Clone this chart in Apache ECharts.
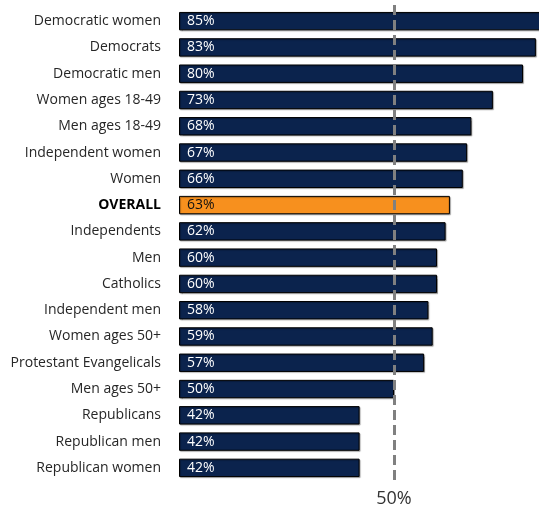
<!DOCTYPE html>
<html><head><meta charset="utf-8">
<script src="https://cdn.jsdelivr.net/npm/echarts@6/dist/echarts.min.js"></script>
<style>html,body{margin:0;padding:0;background:#fff}#c{width:539px;height:511px}</style>
</head><body><div id="c"></div>
<script>
const categories = ["Democratic women","Democrats","Democratic men","Women ages 18-49","Men ages 18-49","Independent women","Women","OVERALL","Independents","Men","Catholics","Independent men","Women ages 50+","Protestant Evangelicals","Men ages 50+","Republicans","Republican men","Republican women"];
const values = [85,83,80,73,68,67,66,63,62,60,60,58,59,57,50,42,42,42];
const highlight = "OVERALL";
const referenceValue = 50;

const chart = echarts.init(document.getElementById('c'));
const font = '"Open Sans", "Noto Sans", sans-serif';
chart.setOption({
  animation: false,
  grid: {left: 179, top: 8, width: 430, height: 473, outerBoundsMode: 'none', containLabel: false},
  xAxis: {type: 'value', min: 0, max: 100, show: false},
  yAxis: {
    type: 'category', data: categories, inverse: true,
    axisLine: {show: false}, axisTick: {show: false},
    axisLabel: {
      margin: 18, fontSize: 14, color: '#262626', fontFamily: font,
      formatter: v => v === highlight ? '{b|' + v + '}' : v,
      rich: {b: {fontWeight: 'bold', fontSize: 14, color: '#000', fontFamily: font}}
    }
  },
  series: [{
    type: 'bar',
    barCategoryGap: '30%',
    data: values.map((v, i) => ({
      value: v,
      itemStyle: categories[i] === highlight ? {color: '#f7901e'} : {},
      label: categories[i] === highlight ? {color: '#111'} : {}
    })),
    itemStyle: {color: '#0b234d', borderColor: '#000', borderWidth: 1,
      shadowColor: 'rgba(0,0,0,0.3)', shadowOffsetX: 1, shadowOffsetY: 1, shadowBlur: 1},
    label: {show: true, position: 'insideLeft', distance: 8,
      formatter: p => p.value + '%', color: '#fff', fontSize: 14, fontFamily: font},
    markLine: {
      silent: true, symbol: 'none',
      lineStyle: {color: '#808080', width: 3, type: [10, 5]},
      label: {show: true, position: 'end', formatter: referenceValue + '%', fontSize: 18, color: '#333', fontFamily: font, distance: 8},
      data: [[{xAxis: referenceValue, y: 5}, {xAxis: referenceValue, y: 482}]]
    },
    z: 2
  }]
});
</script></body></html>
